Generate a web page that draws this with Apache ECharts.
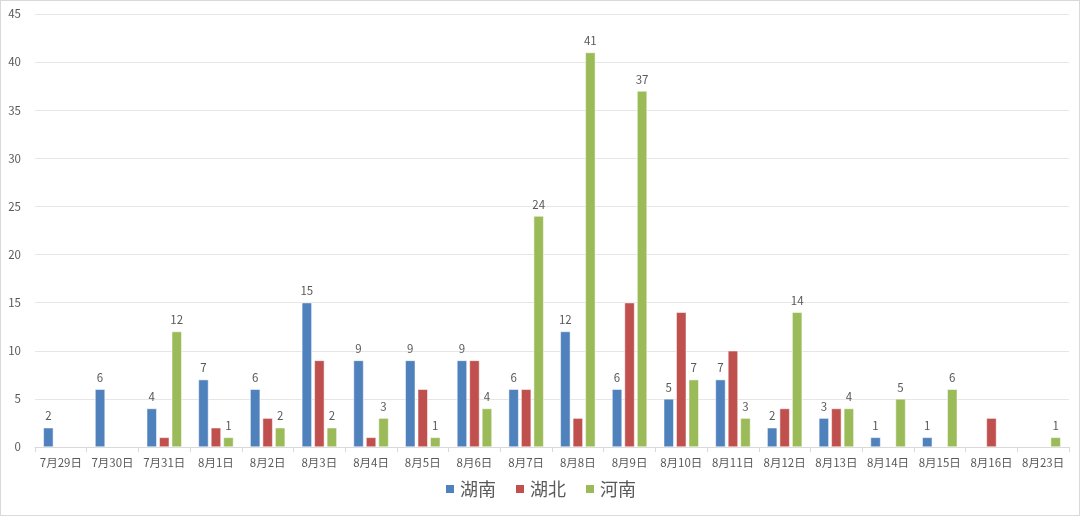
<!DOCTYPE html>
<html><head><meta charset="utf-8">
<script src="https://cdn.jsdelivr.net/npm/echarts@6/dist/echarts.min.js"></script>
<style>html,body{margin:0;padding:0;background:#fff}#c{width:1078px;height:514px;border:1px solid #d9d9d9}</style>
</head><body><div id="c"></div>
<script>
const categories = ['7月29日','7月30日','7月31日','8月1日','8月2日','8月3日','8月4日','8月5日','8月6日','8月7日','8月8日','8月9日','8月10日','8月11日','8月12日','8月13日','8月14日','8月15日','8月16日','8月23日'];
const hunan = [2,6,4,7,6,15,9,9,9,6,12,6,5,7,2,3,1,1,null,null];
const hubei = [null,null,1,2,3,9,1,6,9,6,3,15,14,10,4,4,null,null,3,null];
const henan = [null,null,12,1,2,2,3,1,4,24,41,37,7,3,14,4,5,6,null,1];
const yTicks = [0,5,10,15,20,25,30,35,40,45];

const font = '"Noto Sans CJK SC", sans-serif';
const lbl = {show:true, position:'top', color:'#595959', fontSize:11.5, fontFamily:font, distance:6};
function ser(name, data, color, showLabel){
  return {name, type:'bar', data, barWidth:10, barGap:'25%',
    itemStyle:{color, borderColor:'#fff', borderWidth:0.5},
    label: showLabel ? lbl : {show:false}};
}
const chart = echarts.init(document.getElementById('c'));
chart.setOption({
  animation:false,
  grid:{left:34, right:10, top:13, bottom:68},
  legend:{bottom:12, itemWidth:10, itemHeight:10, itemGap:18, icon:'rect',
    textStyle:{color:'#595959', fontSize:18, fontFamily:font}, data:['湖南','湖北','河南']},
  xAxis:{type:'category', data:categories,
    axisLine:{lineStyle:{color:'#d9d9d9'}},
    axisTick:{show:true, lineStyle:{color:'#d9d9d9'}, length:5},
    axisLabel:{color:'#595959', fontSize:11.5, fontFamily:font, margin:10, interval:0}},
  yAxis:{type:'value', min:yTicks[0], max:yTicks[yTicks.length-1], interval:5,
    axisLine:{show:false}, axisTick:{show:false},
    axisLabel:{color:'#595959', fontSize:11.5, fontFamily:font, margin:14},
    splitLine:{lineStyle:{color:'#e6e6e6'}}},
  series:[ser('湖南',hunan,'#4F81BD',true), ser('湖北',hubei,'#C0504D',false), ser('河南',henan,'#9BBB59',true)]
});
</script></body></html>
